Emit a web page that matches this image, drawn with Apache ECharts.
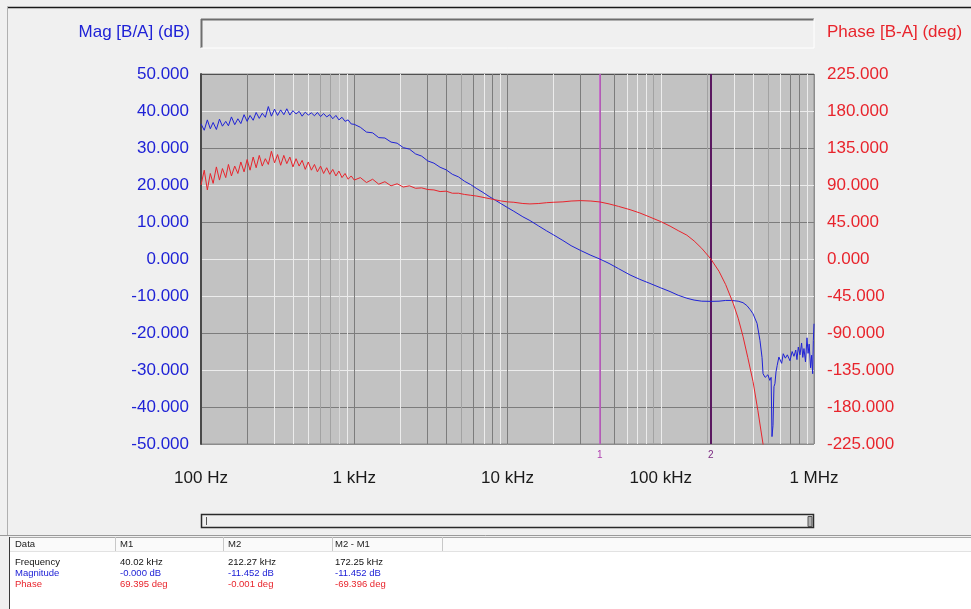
<!DOCTYPE html>
<html><head><meta charset="utf-8">
<script src="https://cdn.jsdelivr.net/npm/echarts@6/dist/echarts.min.js"></script>
<style>html,body{margin:0;padding:0;background:#f0f0f0;}#c{width:971px;height:609px;}</style>
</head><body><div id="c"></div>
<script>
// ---------- data ----------
const freqLow = [100,105,110,115,120,126,132,138,145,151,158,166,174,182,191,200,209,219,229,240,251,263,275,288,302,316,331,347,363,380,398,417,437,457,479,501,525,550,575,603,631,661,692,724,759,794,832,871,912,955,1000,
  1096,1202,1318,1445,1585,1738,1905,2089,2291,2512,2754,3020,3311,3631,3981,4365,4786,5248,5754,6310,6918,7586,8318,9120,10000];
const magLow = [36.5,34.8,37.6,35.2,36.9,35.0,37.8,35.9,37.2,36.0,38.4,36.3,37.9,36.6,39.0,37.2,38.8,37.5,39.6,38.0,39.4,38.3,41.2,38.6,40.5,38.8,40.3,39.0,40.6,38.9,40.1,39.2,39.9,38.6,39.7,38.9,39.5,38.7,39.6,38.5,39.3,38.4,39.0,37.9,38.8,37.6,38.3,37.2,37.6,36.5,36.4,
  35.6,34.3,34.1,32.8,32.7,31.6,31.3,30.1,29.7,28.4,27.8,26.5,25.9,24.8,24.1,22.9,22.2,21.0,20.1,19.0,18.0,16.9,15.9,14.9,13.9];
const phaseLow = [90,108,84,104,92,112,96,110,99,115,101,113,104,118,106,121,108,124,111,126,113,122,115,131,117,127,114,126,116,124,112,122,113,120,109,118,108,115,106,113,104,111,103,109,101,107,99,104,97,101,96,
  99,93,97,91,94,89,91.5,87.5,89,86,86.5,84.5,84,82,82.5,80,80,78.5,77.5,76.5,75,73.5,72,70.5,69.5];
const magFreqHigh = [11000,12600,14000,16000,18000,20000,23000,26000,30000,35000,40020,46000,53000,63000,73000,85000,100000,115000,130000,148000,165000,185000,212270,240000,265000,290000,320000,344000,365000,382000,400000,425000,444000,458000,465000,480000,500000,515000,525000,532000,540000,548000,556000,565000,575000,590000,600000,615000,630000,650000,670000,697000,720000,740000,760000,774000,790000,810000,830000,845000,860000,880000,900000,915000,930000,950000,965000,980000,990000,1000000];
const magHigh = [12.9,11.4,10.4,8.9,7.6,6.5,5.0,3.6,2.3,1.0,0.0,-1.2,-2.6,-4.3,-5.5,-6.6,-7.8,-8.8,-9.8,-10.6,-11.1,-11.4,-11.45,-11.4,-11.2,-11.2,-11.4,-11.8,-12.6,-13.6,-14.8,-17.4,-22.0,-26.6,-31.0,-32.0,-31.3,-32.8,-32.0,-48.0,-45.0,-34.5,-33.7,-30.5,-28.8,-26.5,-27.0,-28.2,-25.6,-26.8,-25.9,-27.5,-25.0,-26.3,-24.6,-27.2,-23.8,-25.9,-22.7,-26.6,-24.2,-27.8,-21.3,-25.5,-23.0,-29.4,-26.0,-31.0,-22.0,-17.5];
const phaseFreqHigh = [11000,12600,14000,16000,18000,20000,23000,26000,30000,35000,40020,46000,53000,63000,73000,85000,100000,115000,130000,148000,165000,185000,212270,240000,265000,297000,320000,344000,370000,400000,430000,464000,480000];
const phaseHigh = [69,67.5,67,67.5,68.5,69,69.5,70.5,71,70.5,69.4,67,64,60,56,51,45.5,40,34.5,29,22,13,0,-15,-31,-54,-72,-94,-120,-149,-184,-224,-246];

const xTickValues = [100,1000,10000,100000,1000000];
const xTickLabels = ['100 Hz','1 kHz','10 kHz','100 kHz','1 MHz'];
const markerFreqs = [40020, 212270];
const markerNames = ['1','2'];

const tableHeader = ['Data','M1','M2','M2 - M1'];
const tableRowNames = ['Frequency','Magnitude','Phase'];
const tableValues = [
  ['40.02 kHz','212.27 kHz','172.25 kHz'],
  ['-0.000 dB','-11.452 dB','-11.452 dB'],
  ['69.395 deg','-0.001 deg','-69.396 deg']
];

// ---------- styles ----------
const BLUE = '#1f22d6', RED = '#e8242c';
const FONT = 'Liberation Sans, Arial, sans-serif';
const DARK = '#7c7c7c', WHITE = '#ececec', MID = '#a2a2a2';
const minorColors = [
  DARK, WHITE, WHITE, WHITE, MID, MID, '#d8d8d8', WHITE,
  WHITE, DARK, DARK, MID, DARK, WHITE, DARK, WHITE,
  WHITE, DARK, DARK, DARK, WHITE, WHITE, WHITE, MID,
  MID, WHITE, WHITE, MID, WHITE, DARK, DARK, WHITE
];

const magData = freqLow.map((f,i)=>[f, magLow[i]]).concat(magFreqHigh.map((f,i)=>[f, magHigh[i]]));
const phaseData = freqLow.map((f,i)=>[f, phaseLow[i]]).concat(phaseFreqHigh.map((f,i)=>[f, phaseHigh[i]]));

const minorLines = [];
let k = 0;
[100,1000,10000,100000].forEach(d=>{
  for (let m=2; m<=9; m++) {
    minorLines.push({xAxis: d*m, lineStyle:{color: minorColors[k++], width:1, type:'solid'}});
  }
});

const markerStyles = [
  {line:'#c452c8', width:1.5, label:'#b040b0'},
  {line:'#5a1860', width:2, label:'#7a2a80'}
];
const markerLines = markerFreqs.map((f,i)=>({
  name: markerNames[i], xAxis: f,
  lineStyle:{color: markerStyles[i].line, width: markerStyles[i].width, type:'solid'},
  label:{color: markerStyles[i].label}
}));

// ---------- decorations ----------
const g = [];
const line = (x1,y1,x2,y2,stroke,w)=>g.push({type:'line', silent:true, shape:{x1,y1,x2,y2}, style:{stroke, lineWidth:w||1}});
const text = (x,y,t,fill,size,align,family)=>g.push({type:'text', silent:true, x, y, style:{text:t, fill, font: size+'px '+(family||FONT), textAlign:align||'left', textVerticalAlign:'middle'}});
line(7,7.5,971,7.5,'#1a1a1a',1.5);
line(7.5,7,7.5,535,'#b0b0b0',1);
// top empty box
g.push({type:'rect', silent:true, shape:{x:201,y:19,width:613,height:29}, style:{fill:'#f0f0f0'}});
line(201,19.5,814,19.5,'#6e6e6e',2);
line(201.5,19,201.5,48,'#6e6e6e',2);
line(201,48,814,48,'#ffffff',1);
line(814,19,814,48,'#ffffff',1);
// axis names
text(190,32,'Mag [B/A] (dB)',BLUE,17,'right');
text(827,32,'Phase [B-A] (deg)',RED,17,'left');
// scrollbar
g.push({type:'rect', silent:true, shape:{x:201.5,y:514.5,width:612,height:13}, style:{fill:'#f0f0f0', stroke:'#2a2a2a', lineWidth:1.5}});
line(206.5,517,206.5,525,'#555',1);
g.push({type:'rect', silent:true, shape:{x:808,y:516.5,width:4,height:10}, style:{fill:'#b0b0b0', stroke:'#555', lineWidth:1}});
// table
line(0,535.5,971,535.5,'#9a9a9a',1);
g.push({type:'rect', silent:true, shape:{x:9,y:537,width:962,height:72}, style:{fill:'#ffffff'}});
g.push({type:'rect', silent:true, shape:{x:9,y:537,width:962,height:14}, style:{fill:'#fafafa'}});
line(9,537.5,971,537.5,'#a8a8a8',1);
line(9,551.5,971,551.5,'#e2e2e2',1);
line(9.5,537,9.5,609,'#3a3a3a',1);
[115,223,332,442].forEach(x=>line(x+0.5,537,x+0.5,551,'#c8c8c8',1));
const colX = [15,120,228,335];
tableHeader.forEach((h,i)=>text(colX[i],544,h,'#222',9.5,'left'));
const rowY = [562,573,584];
const rowColors = ['#111', BLUE, RED];
tableRowNames.forEach((n,r)=>{
  text(colX[0],rowY[r],n,rowColors[r],9.5,'left');
  tableValues[r].forEach((v,c)=>text(colX[c+1],rowY[r],v,rowColors[r],9.5,'left'));
});

// ---------- chart ----------
const chart = echarts.init(document.getElementById('c'), null, {renderer:'canvas'});
const fmtX = v => { const e = Math.round(Math.log10(v)); const idx = xTickValues.findIndex(t=>Math.round(Math.log10(t))===e); return idx>=0 ? xTickLabels[idx] : ''; };
chart.setOption({
  animation:false,
  backgroundColor:'#f0f0f0',
  grid:{left:201, right:157, top:74, bottom:165, show:true, backgroundColor:'#c2c2c2', borderColor:'#8c8c8c', borderWidth:1},
  xAxis:{type:'log', logBase:10, min:100, max:1000000, splitNumber:4,
    axisLine:{show:false}, axisTick:{show:false},
    axisLabel:{margin:26, fontSize:17, color:'#1a1a1a', fontFamily:FONT, formatter:fmtX, showMinLabel:true, showMaxLabel:true, hideOverlap:false},
    splitLine:{show:true, lineStyle:{color:['#505050', DARK, DARK, WHITE, '#8c8c8c'], width:1}}},
  yAxis:[
    {type:'value', min:-50, max:50, interval:10, position:'left',
      axisLine:{show:true, lineStyle:{color:'#4a4a4a', width:2}}, axisTick:{show:false},
      axisLabel:{margin:12, fontSize:17, color:BLUE, fontFamily:FONT, formatter:v=>v.toFixed(3)},
      splitLine:{show:true, lineStyle:{color:['#8c8c8c', DARK, WHITE, DARK, WHITE, WHITE, DARK, WHITE, DARK, WHITE, '#505050'], width:1}}},
    {type:'value', min:-225, max:225, interval:45, position:'right',
      axisLine:{show:false}, axisTick:{show:false}, splitLine:{show:false},
      axisLabel:{margin:13, fontSize:17, color:RED, fontFamily:FONT, formatter:v=>v.toFixed(3)}}
  ],
  series:[
    {name:'Mag', type:'line', yAxisIndex:0, data:magData, symbol:'none', z:3,
      lineStyle:{color:BLUE, width:1}, itemStyle:{color:BLUE},
      markLine:{silent:true, z:1, symbol:['none','none'], label:{show:false}, data:minorLines}},
    {name:'Phase', type:'line', yAxisIndex:1, data:phaseData, symbol:'none', z:3,
      lineStyle:{color:RED, width:1}, itemStyle:{color:RED},
      markLine:{silent:true, z:2, symbol:['none','none'],
        label:{show:true, position:'start', distance:6, fontSize:10, fontFamily:FONT, formatter:p=>p.name},
        data:markerLines}}
  ],
  graphic:{elements:g}
});
</script>
</body></html>
